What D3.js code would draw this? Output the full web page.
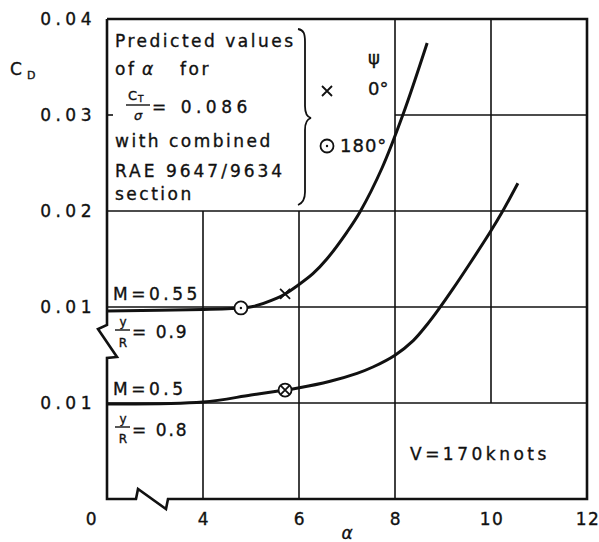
<!DOCTYPE html>
<html>
<head>
<meta charset="utf-8">
<script src="https://cdn.jsdelivr.net/npm/d3@7"></script>
<style>
  body { margin: 0; background: #fff; }
  text { font-family: "DejaVu Sans", sans-serif; fill: #111; stroke: #111; stroke-width: 0.35; }
</style>
</head>
<body>
<svg id="chart" width="599" height="542"></svg>
<script>
// values
const alphaUpper = [0, 4, 4.79, 5.04, 5.54, 5.71, 5.98, 6.29, 6.58, 7.0, 7.27, 7.73, 8.17, 8.67];
const cdUpper = [0.00958, 0.00974, 0.0099, 0.01005, 0.01092, 0.01136, 0.01227, 0.01347, 0.0150, 0.01781, 0.0199, 0.02448, 0.0301, 0.0375];

const alphaLower = [0, 4, 5.0, 5.71, 5.98, 6.65, 7.21, 7.54, 8.0, 8.38, 8.67, 8.9, 9.21, 9.56, 9.98, 10.23, 10.56];
const cdLower = [0.0099, 0.0101, 0.01083, 0.01135, 0.01156, 0.01227, 0.01309, 0.01375, 0.01498, 0.0165, 0.01818, 0.0197, 0.02191, 0.02453, 0.02778, 0.02986, 0.03289];

// predicted points: psi = 0 (cross), psi = 180 (dot circle), both (crossed circle)
const markerAlpha = [4.79, 5.71, 5.71];
const markerCD = [0.0099, 0.01136, 0.01135];
const markerCurve = ["upper", "upper", "lower"];
const markerSymbol = ["dot", "cross", "both"];

const xTicks = [0, 4, 6, 8, 10, 12];
const yTicksUpper = [0.01, 0.02, 0.03, 0.04];
const yTicksLower = [0.01];

let svg = d3.select("#chart");

// broken x axis: 0 .. 4 squeezed into one grid cell
let x = d3.scaleLinear().domain([0, 4, 12]).range([107, 203, 587]);
// upper curve (M = 0.55) and lower curve (M = 0.5) share the grid, shifted by 0.01
let yUpper = d3.scaleLinear().domain([-0.01, 0.04]).range([499, 19]);
let yLower = d3.scaleLinear().domain([0, 0.05]).range([499, 19]);

let xLeft = x(0), xRight = x(12), yTop = yUpper(0.04), yBottom = yLower(0);

// grid
let g = svg.append("g").attr("stroke", "#111").attr("stroke-width", 1.6).attr("fill", "none");
let hLines = [
    [x(8), xRight, yUpper(0.03)],
    [xLeft, xRight, yUpper(0.02)],
    [xLeft, xRight, yUpper(0.01)],
    [xLeft, xRight, yLower(0.01)]
];
let vLines = [
    [x(4), yUpper(0.02), yBottom],
    [x(6), yUpper(0.02), yBottom],
    [x(8), yTop, yBottom],
    [x(10), yTop, yLower(0.01)]
];
hLines.forEach(d => g.append("line").attr("x1", d[0]).attr("x2", d[1]).attr("y1", d[2]).attr("y2", d[2]));
vLines.forEach(d => g.append("line").attr("x1", d[0]).attr("x2", d[0]).attr("y1", d[1]).attr("y2", d[2]));
g.append("line").attr("x1", xLeft).attr("x2", xLeft + 6).attr("y1", yUpper(0.03)).attr("y2", yUpper(0.03));

// frame with the break symbols
let by = yUpper(0.01);
let frame = [
    [xLeft, yTop], [xRight, yTop], [xRight, yBottom],
    [168, yBottom], [166, yBottom + 10], [138, yBottom - 10], [136, yBottom],
    [xLeft, yBottom],
    [xLeft, by + 51], [xLeft + 10, by + 50], [xLeft - 9, by + 22], [xLeft, by + 18],
    [xLeft, yTop]
];
svg.append("path")
    .attr("d", d3.line()(frame))
    .attr("fill", "none")
    .attr("stroke", "#111")
    .attr("stroke-width", 2.6)
    .attr("stroke-linejoin", "miter");

// curves
let lineUpper = d3.line().curve(d3.curveCatmullRom.alpha(0.5))
    .x((d, i) => x(alphaUpper[i])).y((d, i) => yUpper(cdUpper[i]));
let lineLower = d3.line().curve(d3.curveCatmullRom.alpha(0.5))
    .x((d, i) => x(alphaLower[i])).y((d, i) => yLower(cdLower[i]));

svg.append("path").attr("d", lineUpper(alphaUpper))
    .attr("fill", "none").attr("stroke", "#111").attr("stroke-width", 3);
svg.append("path").attr("d", lineLower(alphaLower))
    .attr("fill", "none").attr("stroke", "#111").attr("stroke-width", 3);

// markers
function drawSymbol(sel, cx, cy, sym) {
    let m = sel.append("g").attr("transform", "translate(" + cx + "," + cy + ")")
        .attr("stroke", "#111").attr("stroke-width", 1.8);
    if (sym === "dot" || sym === "both") {
        m.append("circle").attr("r", 6.5).attr("fill", "#fff");
    }
    if (sym === "dot") {
        m.append("circle").attr("r", 1.2).attr("fill", "#111").attr("stroke", "none");
    }
    if (sym === "cross" || sym === "both") {
        let s = sym === "both" ? 4.6 : 5;
        m.append("path").attr("d", "M" + (-s) + "," + (-s) + "L" + s + "," + s + "M" + (-s) + "," + s + "L" + s + "," + (-s));
    }
}
markerAlpha.forEach((a, i) => {
    let yy = markerCurve[i] === "upper" ? yUpper(markerCD[i]) : yLower(markerCD[i]);
    drawSymbol(svg, x(a), yy, markerSymbol[i]);
});

// axis labels
function label(txt, px, py, opts) {
    opts = opts || {};
    return svg.append("text")
        .attr("x", px).attr("y", py)
        .attr("font-size", opts.size || 17)
        .attr("letter-spacing", opts.ls === undefined ? 2.5 : opts.ls)
        .attr("text-anchor", opts.anchor || "start")
        .text(txt);
}

let fmt = d3.format(".2f");
yTicksUpper.forEach(v => label(fmt(v), 96, yUpper(v) + 6, { anchor: "end", ls: 4.5 }));
yTicksLower.forEach(v => label(fmt(v), 96, yLower(v) + 6, { anchor: "end", ls: 4.5 }));

xTicks.forEach(v => label(String(v), x(v) + (v === 0 ? -16 : 0) + 1, 525, { anchor: "middle", ls: 1.5 }));
label("α", 347, 539, { anchor: "middle", ls: 0 }).attr("font-style", "italic");

label("C", 10, 75, { ls: 0 });
label("D", 27, 79, { size: 11, ls: 0 });

// legend box text
label("Predicted values", 115, 47);
label("of", 115, 75);
label("α", 142, 75, { ls: 0 }).attr("font-style", "italic");
label("for", 180, 75);
label("C", 128, 100, { size: 13, ls: 0 });
label("T", 138, 102, { size: 9, ls: 0 });
svg.append("line").attr("x1", 126).attr("x2", 150).attr("y1", 105).attr("y2", 105)
    .attr("stroke", "#111").attr("stroke-width", 1.4);
label("σ", 138, 120, { size: 13, ls: 0, anchor: "middle" }).attr("font-style", "italic");
label("= 0.086", 152, 113, { ls: 4.5 });
label("with combined", 115, 147);
label("RAE 9647/9634", 115, 177, { ls: 3 });
label("section", 115, 200);

// curly brace
svg.append("path")
    .attr("d", "M298,29 C304,30 305,34 305,42 L305,106 C305,113 307,117 311,118 C307,119 305,123 305,130 L305,192 C305,199 303,203 298,205")
    .attr("fill", "none").attr("stroke", "#111").attr("stroke-width", 1.8);

drawSymbol(svg, 327, 91, "cross");
label("ψ", 374, 64, { anchor: "middle", ls: 0, size: 18 });
label("0°", 368, 95, { ls: 0, size: 18 });
drawSymbol(svg, 327, 146, "dot");
label("180°", 340, 152, { ls: 1, size: 18 });

// curve annotations
label("M=0.55", 113, 300, { ls: 3.5 });
label("y", 123, 326, { size: 12, ls: 0, anchor: "middle" });
svg.append("line").attr("x1", 115).attr("x2", 130).attr("y1", 330).attr("y2", 330)
    .attr("stroke", "#111").attr("stroke-width", 1.4);
label("R", 123, 347, { size: 12, ls: 0, anchor: "middle" });
label("= 0.9", 132, 338, { ls: 2 });

label("M=0.5", 113, 395, { ls: 3.5 });
label("y", 123, 423, { size: 12, ls: 0, anchor: "middle" });
svg.append("line").attr("x1", 115).attr("x2", 130).attr("y1", 427).attr("y2", 427)
    .attr("stroke", "#111").attr("stroke-width", 1.4);
label("R", 123, 443, { size: 12, ls: 0, anchor: "middle" });
label("= 0.8", 132, 436, { ls: 2 });

label("V=170knots", 410, 460, { ls: 3.5 });
</script>
</body>
</html>
